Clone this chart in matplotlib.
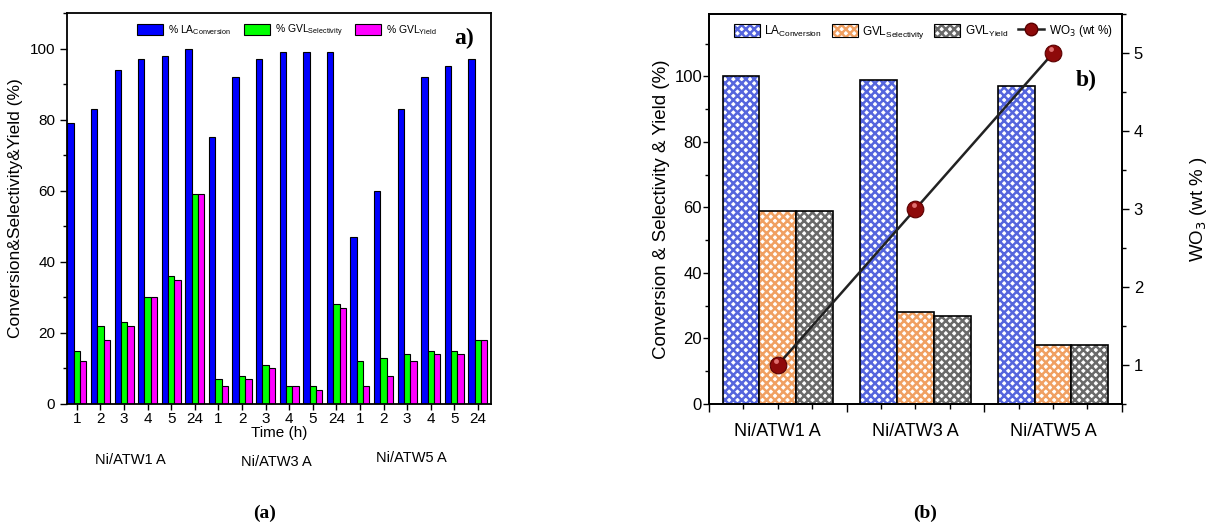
import numpy as np
import matplotlib
matplotlib.use("Agg")
import matplotlib.pyplot as plt
from matplotlib.patches import Patch
from matplotlib.lines import Line2D
from matplotlib.ticker import MultipleLocator

plt.rcParams['font.family'] = ['Liberation Sans', 'DejaVu Sans']
plt.rcParams['hatch.linewidth'] = 1.8

# ---- panel (a) data ----
catalysts = ["Ni/ATW1 A", "Ni/ATW3 A", "Ni/ATW5 A"]
times = ["1", "2", "3", "4", "5", "24"]
la_conv_a = [79, 83, 94, 97, 98, 100,
             75, 92, 97, 99, 99, 99,
             47, 60, 83, 92, 95, 97]
gvl_sel_a = [15, 22, 23, 30, 36, 59,
             7, 8, 11, 5, 5, 28,
             12, 13, 14, 15, 15, 18]
gvl_yield_a = [12, 18, 22, 30, 35, 59,
               5, 7, 10, 5, 4, 27,
               5, 8, 12, 14, 14, 18]

# ---- panel (b) data ----
la_conv_b = [100, 99, 97]
gvl_sel_b = [59, 28, 18]
gvl_yield_b = [59, 27, 18]
wo3 = [1, 3, 5]

fig = plt.figure(figsize=(12.18, 5.27), dpi=100)

# ================= panel a =================
ax = fig.add_axes([0.055, 0.2334, 0.348, 0.742])
x = np.arange(len(la_conv_a))
w = 0.27
ax.bar(x - w, la_conv_a, w, color="#0000ff", edgecolor="black", lw=0.8,
       label="% LA$_{\\mathregular{Conversion}}$")
ax.bar(x, gvl_sel_a, w, color="#00ff00", edgecolor="black", lw=0.8,
       label="% GVL$_{\\mathregular{Selectivity}}$")
ax.bar(x + w, gvl_yield_a, w, color="#ff00ff", edgecolor="black", lw=0.8,
       label="% GVL$_{\\mathregular{Yield}}$")
ax.set_xlim(-0.42, 17.55)
ax.set_ylim(0, 110)
ax.set_xticks(x)
ax.set_xticklabels(times * 3, fontsize=11)
ax.set_yticks([0, 20, 40, 60, 80, 100])
ax.yaxis.set_minor_locator(MultipleLocator(10))
ax.tick_params(axis='y', labelsize=11, direction='out', length=5, width=1)
ax.tick_params(axis='y', which='minor', direction='out', length=3, width=1)
ax.tick_params(axis='x', direction='out', length=4, width=1, pad=2)
for s in ax.spines.values():
    s.set_linewidth(1.3)
ax.set_xlabel("Time (h)", fontsize=11, labelpad=0)
ax.set_ylabel("Conversion&Selectivity&Yield (%)", fontsize=12.5, labelpad=5)
ax.legend(loc='upper right', ncol=3, frameon=False, fontsize=7.5,
          bbox_to_anchor=(0.895, 1.0), handlelength=2.5, handleheight=1.3,
          columnspacing=1.2, handletextpad=0.5, borderaxespad=0.5)
ax.text(0.96, 0.935, "a)", transform=ax.transAxes, ha='right', va='center',
        fontsize=17, fontweight='bold', family='Liberation Serif')
fig.text(130 / 1218, 1 - 460 / 527, catalysts[0], ha='center', va='center', fontsize=10.5)
fig.text(276 / 1218, 1 - 462 / 527, catalysts[1], ha='center', va='center', fontsize=10.5)
fig.text(411 / 1218, 1 - 458 / 527, catalysts[2], ha='center', va='center', fontsize=10.5)
fig.text(265 / 1218, 1 - 513 / 527, "(a)", ha='center', va='center', fontsize=14,
         fontweight='bold', family='Liberation Serif')

# ================= panel b =================
bx = fig.add_axes([0.5821, 0.2334, 0.339, 0.740])
xb = np.arange(1, len(la_conv_b) + 1)
wb = 0.267
hatch_cols = ["#5565dd", "#f0a062", "#6a6a6a"]
series_b = [la_conv_b, gvl_sel_b, gvl_yield_b]
labels_b = ["LA$_{\\mathregular{Conversion}}$", "GVL$_{\\mathregular{Selectivity}}$",
            "GVL$_{\\mathregular{Yield}}$"]
handles = []
for k, (vals, hc, lab) in enumerate(zip(series_b, hatch_cols, labels_b)):
    bars = bx.bar(xb + (k - 1) * wb, vals, wb, facecolor="white", edgecolor="black",
                  lw=1.2, hatch="xxxx")
    for p in bars:
        p._hatch_color = matplotlib.colors.to_rgba(hc)
    h = Patch(facecolor="white", edgecolor="black", hatch="xxxx", lw=0.8, label=lab)
    h._hatch_color = matplotlib.colors.to_rgba(hc)
    handles.append(h)
bx.set_xlim(0.5, 3.5)
bx.set_ylim(0, 119)
bx.set_yticks([0, 20, 40, 60, 80, 100])
bx.yaxis.set_minor_locator(MultipleLocator(10))
bx.set_xticks([0.5, 1.5, 2.5, 3.5])
bx.set_xticklabels([])
bx.set_xticks(np.arange(0.75, 3.5, 0.25), minor=True)
minor_labels = ["", catalysts[0], "", "", "", catalysts[1], "", "", "", catalysts[2], ""]
bx.set_xticklabels(minor_labels, minor=True, fontsize=13)
bx.tick_params(axis='x', which='major', direction='out', length=6, width=1)
bx.tick_params(axis='x', which='minor', direction='out', length=3.5, width=1, pad=10)
bx.tick_params(axis='y', labelsize=12, direction='out', length=4, width=1, pad=1)
bx.tick_params(axis='y', which='minor', direction='out', length=3, width=1)
for s in bx.spines.values():
    s.set_linewidth(1.3)
bx.set_ylabel("Conversion & Selectivity & Yield (%)", fontsize=13.5, labelpad=3)

tx = bx.twinx()
tx.plot(xb, wo3, color="#222222", lw=1.8, marker='o', markersize=12,
        markerfacecolor="#8e0a0a", markeredgecolor="#5a0000", markeredgewidth=0.8, zorder=5)
tx.plot(xb - 0.012, np.array(wo3) + 0.05, ls='none', marker='o', markersize=3.5,
        markerfacecolor="#e07070", markeredgecolor='none', zorder=6)
tx.set_ylim(0.5, 5.5)
tx.set_yticks([1, 2, 3, 4, 5])
tx.yaxis.set_minor_locator(MultipleLocator(0.5))
tx.tick_params(axis='y', labelsize=12, direction='out', length=5, width=1)
tx.tick_params(axis='y', which='minor', direction='out', length=3, width=1)
tx.set_ylabel("WO$_3$ (wt % )", fontsize=13.5, labelpad=32)
for s in tx.spines.values():
    s.set_linewidth(1.3)

line_h = Line2D([], [], color="#222222", lw=1.8, marker='o', markersize=9,
                markerfacecolor="#8e0a0a", markeredgecolor="#5a0000",
                label="WO$_3$ (wt %)")
handles.append(line_h)
tx.legend(handles=handles, loc='upper right', ncol=4, frameon=False, fontsize=8.5,
          handlelength=2.2, handleheight=1.3, columnspacing=0.8, handletextpad=0.4,
          borderaxespad=0.4, bbox_to_anchor=(1.0, 1.0))
tx.text(0.94, 0.83, "b)", transform=tx.transAxes, ha='right', va='center',
        fontsize=17, fontweight='bold', family='Liberation Serif')
fig.text(925 / 1218, 1 - 513 / 527, "(b)", ha='center', va='center', fontsize=14,
         fontweight='bold', family='Liberation Serif')

fig.savefig("out.png", dpi=100)
